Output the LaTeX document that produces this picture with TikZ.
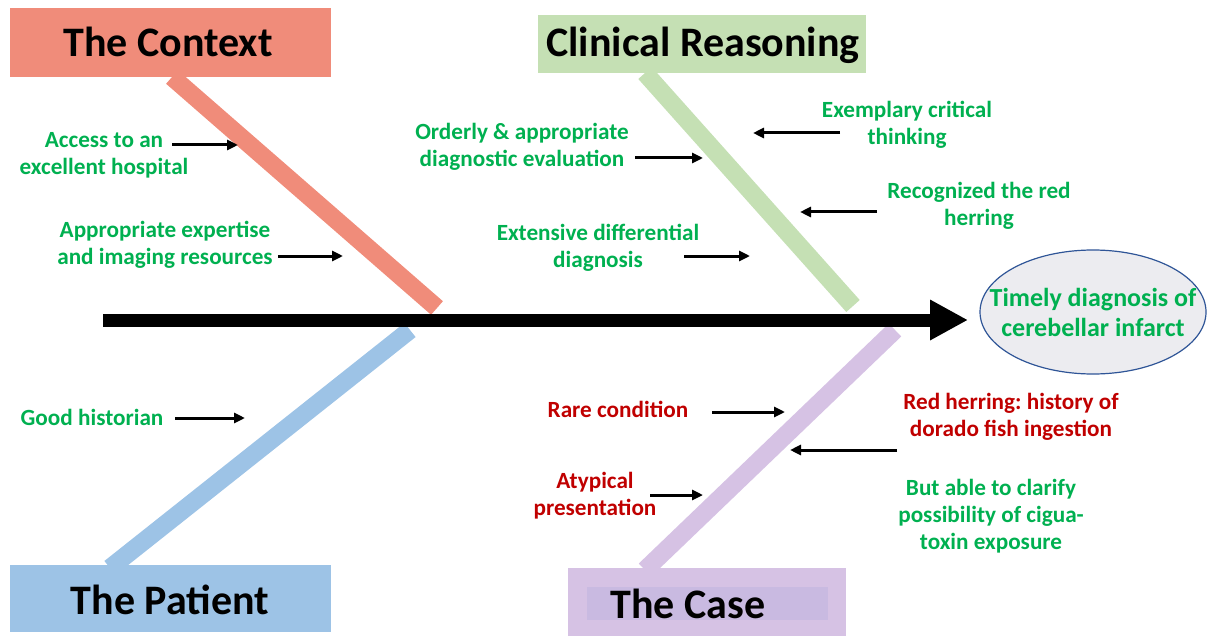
\documentclass[tikz,border=0pt]{standalone}
\usepackage{fontspec}
\setmainfont{Carlito}
\frenchspacing
\usetikzlibrary{arrows.meta,positioning,shapes.geometric}
\definecolor{contextfill}{RGB}{240,140,122}
\definecolor{clinicalfill}{RGB}{197,224,180}
\definecolor{patientfill}{RGB}{157,195,230}
\definecolor{casefill}{RGB}{214,194,228}
\definecolor{caseinner}{RGB}{201,186,225}
\definecolor{goodtext}{RGB}{0,176,80}
\definecolor{badtext}{RGB}{192,0,0}
\definecolor{goalfill}{RGB}{236,236,240}
\definecolor{goalline}{RGB}{47,85,151}
\tikzset{
    titlebox/.style={inner sep=0pt, outer sep=0pt},
    titletext/.style={font=\fontsize{21}{25}\selectfont\bfseries, text=black, inner sep=0pt},
    bone/.style={line width=9pt, line cap=butt},
    factgood/.style={align=center, font=\fontsize{11.6}{13.4}\selectfont\bfseries, text=goodtext, inner sep=0pt},
    factbad/.style={align=center, font=\fontsize{11.6}{13.4}\selectfont\bfseries, text=badtext, inner sep=0pt},
    factarrow/.style={-{Triangle[length=5.5pt,width=5pt]}, line width=1.5pt},
    spinearrow/.style={-{Triangle[length=19pt,width=19pt]}, line width=6.5pt}
}

\begin{document}
\begin{tikzpicture}[x=0.5pt, y=-0.5pt]
        \useasboundingbox (0,0) rectangle (1208,636);
        \node[titlebox, fill=contextfill, minimum width=160.5pt, minimum height=34.5pt] (contextbox) at (170.5,42.5) {};
        \node[titletext] (context) at (168,42) {The Context};
        \node[titlebox, fill=clinicalfill, minimum width=164pt, minimum height=29pt] (clinicalbox) at (702,44) {};
        \node[titletext] (clinical) at (703,45) {Clinical Reasoning};
        \node[titlebox, fill=patientfill, minimum width=160.5pt, minimum height=33.5pt] (patientbox) at (170.5,598.5) {};
        \node[titletext] (patient) at (170,600) {The Patient};
        \node[titlebox, fill=casefill, minimum width=139pt, minimum height=34pt] (casebox) at (707,602) {};
        \node[titlebox, fill=caseinner, minimum width=120.5pt, minimum height=16.5pt] (caseband) at (707.5,603.5) {};
        \node[titletext] (case) at (688,604) {The Case};
        \node[ellipse, draw=goalline, fill=goalfill, line width=0.6pt, minimum width=113pt, minimum height=62pt, inner sep=0pt] (goal) at (1093,312) {};
        \node[factgood, font=\fontsize{13}{15}\selectfont\bfseries] (goaltext) at (1093,312) {Timely diagnosis of\\cerebellar infarct};

        \coordinate (contexttop) at (172,77);
        \coordinate (contextend) at (437,308);
        \coordinate (clinicaltop) at (645,73);
        \coordinate (clinicalend) at (853,306);
        \coordinate (patienttop) at (410,330);
        \coordinate (patientend) at (110,568);
        \coordinate (casetop) at (895,330);
        \coordinate (caseend) at (645,570);
        \draw[bone, contextfill] (contexttop) -- (contextend);
        \draw[bone, clinicalfill] (clinicaltop) -- (clinicalend);
        \draw[bone, patientfill] (patienttop) -- (patientend);
        \draw[bone, casefill] (casetop) -- (caseend);

        \coordinate (tail) at (103,320);
        \coordinate (head) at (968,320);
        \draw[spinearrow] (tail) -- (head);

        \node[factgood] (hospital) at (104,155) {Access to an\\excellent hospital};
        \node[factgood] (expertise) at (165,245) {Appropriate expertise\\and imaging resources};
        \node[factgood] (historian) at (92,417) {Good historian};
        \node[factgood] (orderly) at (522,147) {Orderly \& appropriate\\diagnostic evaluation};
        \node[factgood] (differential) at (598,248) {Extensive differential\\diagnosis};
        \node[factgood] (critical) at (907,125) {Exemplary critical\\thinking};
        \node[factgood] (herring) at (979,206) {Recognized the red\\herring};
        \node[factbad] (rare) at (618,409) {Rare condition};
        \node[factbad] (atypical) at (595,496) {Atypical\\presentation};
        \node[factbad] (dorado) at (1011,417) {Red herring: history of\\dorado fish ingestion};
        \node[factgood] (clarify) at (991,516) {But able to clarify\\possibility of cigua-\\toxin exposure};

        \coordinate (hospitalfrom) at (172,145);
        \coordinate (hospitalto) at (238,145);
        \coordinate (expertisefrom) at (278,256);
        \coordinate (expertiseto) at (343,256);
        \coordinate (historianfrom) at (175,418);
        \coordinate (historianto) at (245,418);
        \coordinate (orderlyfrom) at (635,158);
        \coordinate (orderlyto) at (703,158);
        \coordinate (differentialfrom) at (684,256);
        \coordinate (differentialto) at (750,256);
        \coordinate (criticalfrom) at (840,133);
        \coordinate (criticalto) at (753,133);
        \coordinate (herringfrom) at (877,212);
        \coordinate (herringto) at (800,212);
        \coordinate (rarefrom) at (712,412);
        \coordinate (rareto) at (785,412);
        \coordinate (atypicalfrom) at (650,495);
        \coordinate (atypicalto) at (703,495);
        \coordinate (doradofrom) at (897,450);
        \coordinate (doradoto) at (790,450);
        \draw[factarrow] (hospitalfrom) -- (hospitalto);
        \draw[factarrow] (expertisefrom) -- (expertiseto);
        \draw[factarrow] (historianfrom) -- (historianto);
        \draw[factarrow] (orderlyfrom) -- (orderlyto);
        \draw[factarrow] (differentialfrom) -- (differentialto);
        \draw[factarrow] (criticalfrom) -- (criticalto);
        \draw[factarrow] (herringfrom) -- (herringto);
        \draw[factarrow] (rarefrom) -- (rareto);
        \draw[factarrow] (atypicalfrom) -- (atypicalto);
        \draw[factarrow] (doradofrom) -- (doradoto);
    \end{tikzpicture}
\end{document}
